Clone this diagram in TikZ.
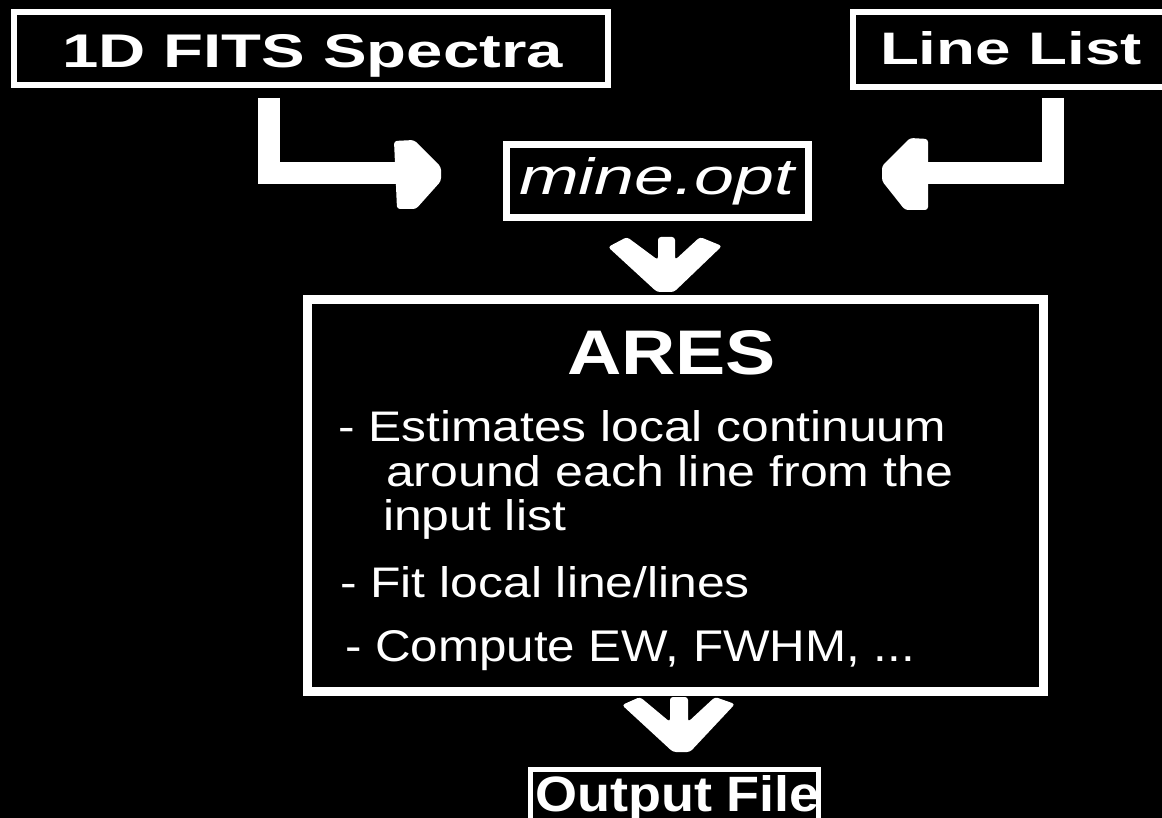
\documentclass[tikz,border=0pt]{standalone}
\usepackage{fontspec}
\setmainfont{Liberation Sans}
\usepackage{graphicx}
\newcommand{\fittext}[3]{\resizebox{#1pt}{#2pt}{#3}}
\begin{document}
\begin{tikzpicture}[x=1pt,y=-1pt,
  frame/.style={draw=white, fill=black, inner sep=0pt, outer sep=0pt},
  txt/.style={inner sep=0pt, outer sep=0pt, text=white, anchor=base west, font=\fontsize{40}{48}\selectfont},
  bar/.style={draw=white, line width=22pt, line join=miter},
  head/.style={fill=white, rounded corners=3pt}]
\useasboundingbox (0,0) rectangle (1162,818);
\clip (0,0) rectangle (1162,818);
\fill[black] (0,0) rectangle (1162,818);

% boxes
\node[frame, line width=6pt, minimum width=594pt, minimum height=73pt] (fits) at (311,48.5) {};
\node[frame, line width=6pt, minimum width=347pt, minimum height=75pt] (linelist) at (1026.5,49.5) {};
\node[frame, line width=7pt, minimum width=302pt, minimum height=73pt] (opt) at (657,181.5) {};
\node[frame, line width=9pt, minimum width=736pt, minimum height=391pt] (ares) at (675,495.5) {};
\node[frame, line width=5pt, minimum width=288pt, minimum height=70pt] (out) at (674,804.5) {};

% texts
\node[txt] (fitsT) at (62,68) {\fittext{501}{33}{\bfseries 1D FITS Spectra}};
\node[txt] (llT) at (880,65) {\fittext{262}{33}{\bfseries Line List}};
\node[txt] (optT) at (519,195) {\fittext{275}{37}{\itshape mine.opt}};
\node[txt] (aresT) at (567,374) {\fittext{209}{44}{\bfseries ARES}};
\node[txt] (l1) at (338,441) {\fittext{608}{31}{- Estimates local continuum}};
\node[txt] (l2) at (386,486) {\fittext{567}{31}{around each line from the}};
\node[txt] (l3) at (383,530) {\fittext{183}{31}{input list}};
\node[txt] (l4) at (340,597) {\fittext{410}{31}{- Fit local line/lines}};
\node[txt] (l5) at (345,661) {\fittext{570}{31}{- Compute EW, FWHM, ...}};
\node[txt] (outT) at (535,811) {\fittext{285}{36}{\bfseries Output File}};
\draw[white, line width=5pt] (out.north east) -- (out.south east);

% connectors (block arrows)
\coordinate (a1s) at (269,98);
\coordinate (a2s) at (1053,98);
\draw[bar] (a1s) -- (269,173) -- (400,173);
\fill[head] (394,141) -- (414,140) -- (441,167) -- (441,181) -- (416,209) -- (397,209) -- cycle;
\draw[bar] (a2s) -- (1053,173) -- (924,173);
\fill[head] (928,139) -- (910,138) -- (882,166) -- (882,181) -- (905,210) -- (928,210) -- cycle;

\fill[head] (608,247) -- (627,237) -- (658,260) -- (658,237) -- (675,237) -- (675,260)
  -- (700,237) -- (722,246) -- (674,292) -- (657,292) -- cycle;
\fill[head] (622,705) -- (640,697) -- (670,722) -- (670,697) -- (688,697) -- (688,722)
  -- (715,697) -- (735,704) -- (690,752) -- (673,752) -- cycle;
\end{tikzpicture}
\end{document}
